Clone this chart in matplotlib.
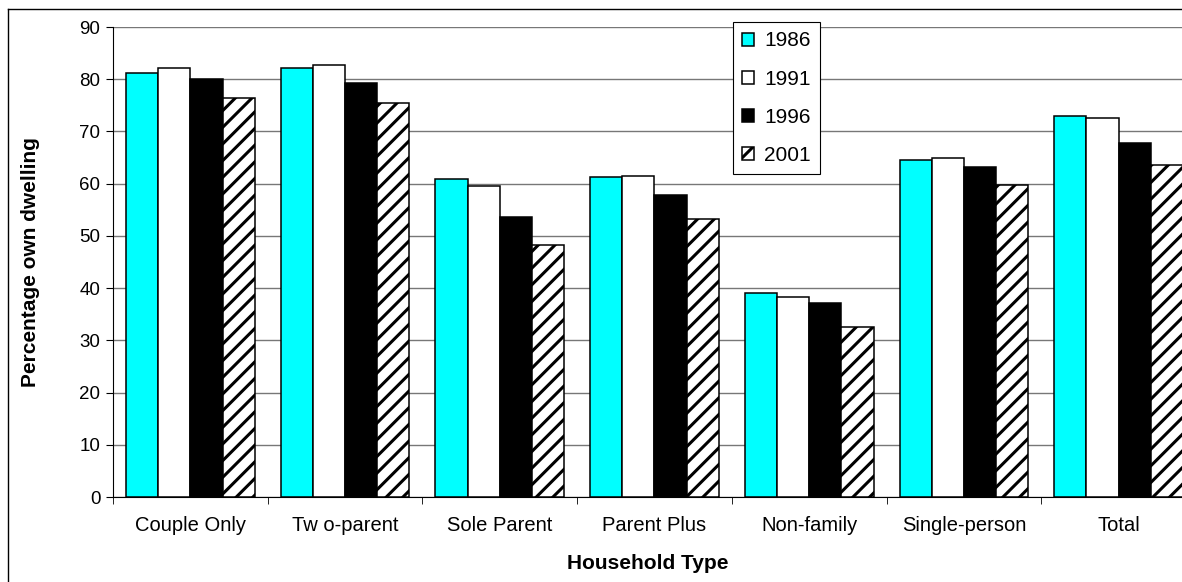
import numpy as np
import matplotlib
matplotlib.use("Agg")
import matplotlib.pyplot as plt
from matplotlib.lines import Line2D

plt.rcParams['font.family'] = ['Liberation Sans', 'DejaVu Sans']
plt.rcParams['hatch.linewidth'] = 2.2

# data
categories = ["Couple Only", "Tw o-parent", "Sole Parent", "Parent Plus",
              "Non-family", "Single-person", "Total"]
years = ["1986", "1991", "1996", "2001"]
v1986 = [81.1, 82.2, 60.8, 61.2, 39.0, 64.6, 73.0]
v1991 = [82.2, 82.7, 59.6, 61.5, 38.3, 64.9, 72.6]
v1996 = [80.0, 79.3, 53.6, 57.8, 37.2, 63.2, 67.8]
v2001 = [76.5, 75.4, 48.2, 53.2, 32.6, 59.8, 63.5]

W, H = 1182, 582
fig = plt.figure(figsize=(W / 100, H / 100), dpi=100)
ax = fig.add_axes([113 / W, 1 - 497 / H, 1 - 113 / W, 470 / H])

x = np.arange(len(categories))
w = 0.208
styles = [dict(color="#00ffff"), dict(color="white"), dict(color="black"),
          dict(color="white", hatch="//")]
for i, (vals, st) in enumerate(zip([v1986, v1991, v1996, v2001], styles)):
    ax.bar(x + (i - 1.5) * w, vals, w, edgecolor="black", linewidth=1.1,
           label=years[i], zorder=3, **st)

ax.set_ylim(0, 90)
ax.set_xlim(-0.5, 6.41)
ax.set_yticks(range(0, 91, 10))
ax.yaxis.grid(True, color="#777777", linewidth=1.0, zorder=0)
ax.set_xticks(x)
ax.set_xticklabels(categories, fontsize=14.5)
ax.set_xticks(np.arange(-0.5, 6.5, 1), minor=True)
ax.tick_params(axis="x", which="major", length=0, pad=14)
ax.tick_params(axis="x", which="minor", length=5, color="black")
ax.tick_params(axis="y", labelsize=13.5, length=5, color="black", pad=4)
for s in ["top", "right"]:
    ax.spines[s].set_visible(False)
ax.spines["left"].set_color("black")
ax.spines["bottom"].set_color("black")

ax.set_ylabel("Percentage own dwelling", fontsize=15, fontweight="bold")
ax.yaxis.set_label_coords(-0.068, 0.5)
ax.set_xlabel("Household Type", fontsize=15, fontweight="bold")
ax.xaxis.set_label_coords(0.5, -0.121)

leg = fig.legend(loc="upper left", bbox_to_anchor=(733 / W, 1 - 22 / H),
                 fontsize=15, handlelength=0.58, handleheight=0.58,
                 labelspacing=0.92, handletextpad=0.48, borderpad=0.45,
                 borderaxespad=0, fancybox=False, edgecolor="black", framealpha=1)
leg.get_frame().set_linewidth(0.8)

# outer chart border
fig.add_artist(Line2D([8 / W, 8 / W], [0, 1 - 9 / H], color="black", lw=1))
fig.add_artist(Line2D([8 / W, 1], [1 - 9 / H, 1 - 9 / H], color="black", lw=1))

fig.savefig("out.png", dpi=100)
